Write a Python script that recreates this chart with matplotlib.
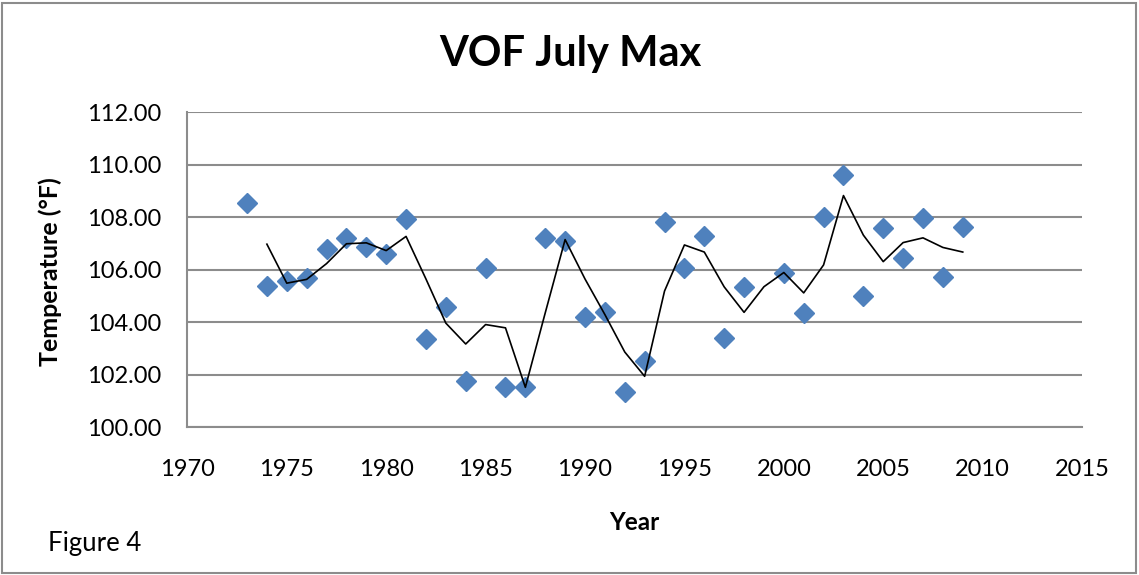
import matplotlib.pyplot as plt
import numpy as np
import pandas as pd
from matplotlib.patches import Rectangle

plt.rcParams['font.family'] = ['Lato', 'DejaVu Sans']

years = [1973, 1974, 1975, 1976, 1977, 1978, 1979, 1980, 1981, 1982,
         1983, 1984, 1985, 1986, 1987, 1988, 1989, 1990, 1991, 1992,
         1993, 1994, 1995, 1996, 1997, 1998, 1999, 2000, 2001, 2002,
         2003, 2004, 2005, 2006, 2007, 2008, 2009]
tmax = [108.55, 105.39, 105.58, 105.68, 106.78, 107.19, 106.85, 106.60, 107.93, 103.36,
        104.57, 101.77, 106.05, 101.52, 101.52, 107.19, 107.10, 104.19, 104.39, 101.34,
        102.54, 107.83, 106.05, 107.29, 103.40, 105.35, np.nan, 105.89, 104.34, 108.02,
        109.62, 105.01, 107.60, 106.46, 107.96, 105.73, 107.61]

# 2 period moving average (excel style, blank year skipped)
s = pd.Series(tmax, index=years)
moy = s.rolling(2, min_periods=1).mean()
moy.iloc[0] = np.nan

fig = plt.figure(figsize=(11.39, 5.75), dpi=100)
ax = fig.add_axes([0.1645, 0.2569, 0.7855, 0.5483])

ax.plot(years, tmax, linestyle='none', marker='D', markersize=10,
        color='#4F81BD', zorder=3)
ax.plot(moy.index, moy.values, color='black', linewidth=1.2, zorder=4)

ax.set(xlim=(1970, 2015), xticks=np.arange(1970, 2016, 5),
       ylim=(100, 112), yticks=np.arange(100, 113, 2))
ax.set_yticklabels(['%.2f' % v for v in np.arange(100, 113, 2)])
ax.tick_params(length=0, labelsize=17)
ax.tick_params(axis='y', pad=19)
ax.tick_params(axis='x', pad=23)
ax.grid(axis='y', color='#8c8c8c', linewidth=1.5)
ax.set_axisbelow(True)
for sp in ['top', 'right']:
    ax.spines[sp].set_visible(False)
for sp in ['left', 'bottom']:
    ax.spines[sp].set_color('#8c8c8c')
    ax.spines[sp].set_linewidth(1.5)

fig.text(0.501, 0.906, 'VOF July Max', ha='center', va='center',
         fontsize=30, fontweight='bold')
fig.text(0.044, 0.527, 'Temperature (°F)', ha='center', va='center',
         rotation=90, fontsize=18, fontweight='bold')
fig.text(0.557, 0.092, 'Year', ha='center', va='center',
         fontsize=17.5, fontweight='bold')
fig.text(0.042, 0.055, 'Figure 4', ha='left', va='center', fontsize=18.5)

fig.patches.append(Rectangle((0.002, 0.004), 0.995, 0.991, transform=fig.transFigure,
                             fill=False, edgecolor='#8c8c8c', linewidth=1.5))

fig.savefig('out.png', dpi=100)
